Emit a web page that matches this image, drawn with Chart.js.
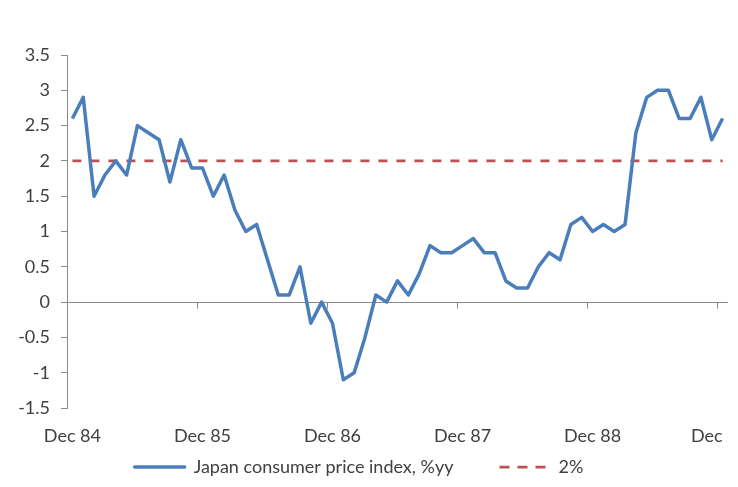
<!DOCTYPE html>
<html>
<head>
<meta charset="utf-8">
<script src="https://cdn.jsdelivr.net/npm/chart.js@4.4.1/dist/chart.umd.min.js"></script>
<style>
  html, body { margin: 0; padding: 0; background: #ffffff; }
  #wrap { width: 738px; height: 487px; }
</style>
</head>
<body>
<div id="wrap"><canvas id="c" width="738" height="487"></canvas></div>
<script>
const categories = [
  "Dec 84","Jan 85","Feb 85","Mar 85","Apr 85","May 85","Jun 85","Jul 85","Aug 85","Sep 85","Oct 85","Nov 85",
  "Dec 85","Jan 86","Feb 86","Mar 86","Apr 86","May 86","Jun 86","Jul 86","Aug 86","Sep 86","Oct 86","Nov 86",
  "Dec 86","Jan 87","Feb 87","Mar 87","Apr 87","May 87","Jun 87","Jul 87","Aug 87","Sep 87","Oct 87","Nov 87",
  "Dec 87","Jan 88","Feb 88","Mar 88","Apr 88","May 88","Jun 88","Jul 88","Aug 88","Sep 88","Oct 88","Nov 88",
  "Dec 88","Jan 89","Feb 89","Mar 89","Apr 89","May 89","Jun 89","Jul 89","Aug 89","Sep 89","Oct 89","Nov 89",
  "Dec 89"
];
const cpiYoY = [
  2.6, 2.9, 1.5, 1.8, 2.0, 1.8, 2.5, 2.4, 2.3, 1.7, 2.3, 1.9,
  1.9, 1.5, 1.8, 1.3, 1.0, 1.1, 0.6, 0.1, 0.1, 0.5, -0.3, 0.0,
  -0.3, -1.1, -1.0, -0.5, 0.1, 0.0, 0.3, 0.1, 0.4, 0.8, 0.7, 0.7,
  0.8, 0.9, 0.7, 0.7, 0.3, 0.2, 0.2, 0.5, 0.7, 0.6, 1.1, 1.2,
  1.0, 1.1, 1.0, 1.1, 2.4, 2.9, 3.0, 3.0, 2.6, 2.6, 2.9, 2.3,
  2.6
];
const target = [
  2,2,2,2,2,2,2,2,2,2,2,2,
  2,2,2,2,2,2,2,2,2,2,2,2,
  2,2,2,2,2,2,2,2,2,2,2,2,
  2,2,2,2,2,2,2,2,2,2,2,2,
  2,2,2,2,2,2,2,2,2,2,2,2,
  2
];
const xTickLabels = ["Dec 84", "Dec 85", "Dec 86", "Dec 87", "Dec 88", "Dec"];
const seriesNames = ["Japan consumer price index, %yy", "2%"];

const AXIS_GRAY = '#898989';
const TEXT = '#404040';
const FONT = { family: 'Lato', size: 18 };

const zeroAxisPlugin = {
  id: 'zeroAxis',
  afterLayout(chart) {
    if (chart.legend) { chart.legend.left -= 5; chart.legend.right -= 5; }
  },
  beforeDraw(chart) {
    const xs = chart.scales.x;
    const items = xs.getLabelItems(chart.chartArea);
    items.forEach((it) => {
      if (it.label === xTickLabels[xTickLabels.length - 1]) it.options.textAlign = 'right';
    });
  },
  beforeDatasetsDraw(chart) {
    const { ctx, chartArea, scales } = chart;
    const x = scales.x, y = scales.y;
    const y0 = Math.round(y.getPixelForValue(0)) + 0.5;
    const half = (x.getPixelForValue(1) - x.getPixelForValue(0)) / 2;
    ctx.save();
    ctx.strokeStyle = AXIS_GRAY;
    ctx.lineWidth = 1;
    ctx.beginPath();
    ctx.moveTo(chartArea.left, y0);
    ctx.lineTo(chartArea.right, y0);
    for (let i = 0; i < categories.length; i += 12) {
      const px = Math.round(x.getPixelForValue(i) - half) + 0.5;
      ctx.moveTo(px, y0);
      ctx.lineTo(px, y0 + 6);
    }
    ctx.stroke();
    ctx.restore();
  }
};

new Chart(document.getElementById('c'), {
  type: 'line',
  data: {
    labels: categories,
    datasets: [
      {
        label: seriesNames[0],
        data: cpiYoY,
        borderColor: '#4A7EBB',
        backgroundColor: '#4A7EBB',
        borderWidth: 3.5,
        borderJoinStyle: 'round',
        pointRadius: 0,
        tension: 0,
        order: 1
      },
      {
        label: seriesNames[1],
        data: target,
        borderColor: '#C0504D',
        backgroundColor: '#C0504D',
        borderWidth: 2.75,
        borderDash: [9, 9],
        pointRadius: 0,
        tension: 0,
        order: 2
      }
    ]
  },
  options: {
    responsive: false,
    devicePixelRatio: 1,
    animation: false,
    layout: { padding: { top: 55, right: 10, left: 0, bottom: 1 } },
    scales: {
      x: {
        type: 'category',
        offset: true,
        grid: { display: false, drawTicks: false },
        border: { display: false },
        ticks: {
          autoSkip: false,
          maxRotation: 0,
          minRotation: 0,
          mirror: true,
          padding: -39,
          color: TEXT,
          font: FONT,
          callback: (v, i) => (i % 12 === 0 ? xTickLabels[i / 12] : null)
        },
        afterFit: (s) => { s.height = 4; s.paddingLeft = 0; s.paddingRight = 0; }
      },
      y: {
        min: -1.5,
        max: 3.5,
        grid: { drawOnChartArea: false, drawTicks: true, tickLength: 6, tickColor: AXIS_GRAY, color: AXIS_GRAY },
        border: { display: true, color: AXIS_GRAY, width: 1 },
        ticks: {
          stepSize: 0.5,
          padding: 11,
          color: TEXT,
          font: FONT,
          callback: (v) => String(v)
        },
        afterFit: (s) => { s.width = 67; }
      }
    },
    plugins: {
      tooltip: { enabled: false },
      legend: {
        position: 'bottom',
        labels: {
          boxWidth: 50,
          boxHeight: 0,
          padding: 46,
          color: TEXT,
          font: FONT
        }
      }
    }
  },
  plugins: [zeroAxisPlugin]
});
</script>
</body>
</html>
